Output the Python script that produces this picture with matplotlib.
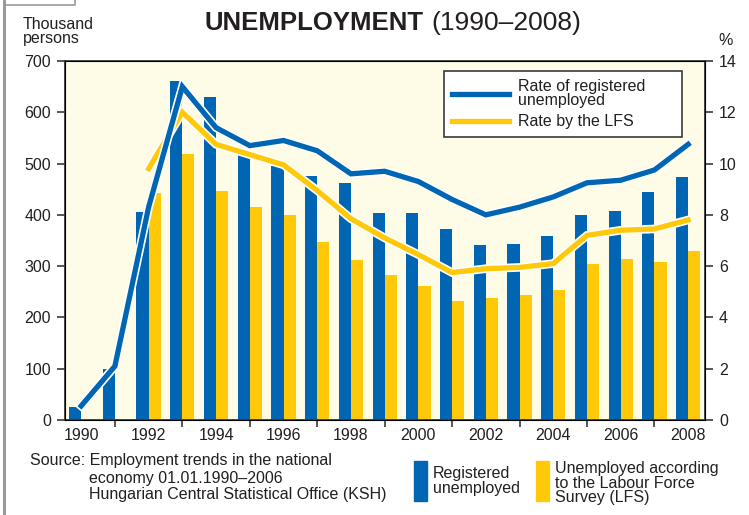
import numpy as np
import matplotlib
matplotlib.use("Agg")
import matplotlib.pyplot as plt
import matplotlib.patheffects as pe
from matplotlib.patches import Rectangle
from matplotlib.lines import Line2D

plt.rcParams["font.family"] = ["Liberation Sans", "DejaVu Sans"]

BLUE = "#0066b3"
YELLOW = "#ffc90a"
CREAM = "#fefbe7"
DARK = "#3a3a3a"
TEXT = "#231f20"
FRAME = "#9a9a9a"
FS = 11.5

# data
years = list(range(1990, 2009))
registered_k = [26, 100, 406, 661, 630, 517, 495, 476, 462, 404, 404,
                372, 341, 343, 359, 400, 407, 444, 474]
lfs_k = [np.nan, np.nan, 443, 518, 446, 415, 400, 347, 312, 283, 261,
         232, 238, 244, 253, 304, 314, 308, 329]
registered_rate = [0.55, 2.1, 8.3, 13.0, 11.4, 10.7, 10.9, 10.5, 9.6, 9.7,
                   9.3, 8.6, 8.0, 8.3, 8.7, 9.25, 9.35, 9.75, 10.75]
lfs_rate = [np.nan, np.nan, 9.8, 12.0, 10.75, 10.35, 9.95, 8.95, 7.85, 7.1,
            6.45, 5.75, 5.9, 5.95, 6.1, 7.2, 7.4, 7.45, 7.8]

W, H = 749, 515
fig = plt.figure(figsize=(W / 100, H / 100), dpi=100)


def fx(px):
    return px / W


def fy(py):
    return 1 - py / H


ax = fig.add_axes([fx(65), fy(420), fx(640), 359 / H])
ax.set_facecolor(CREAM)

x = np.array(years, dtype=float)
bw = 0.36
ax.bar(x - bw / 2, registered_k, width=bw, color=BLUE, zorder=2)
ax.bar(x + bw / 2, lfs_k, width=bw, color=YELLOW, zorder=2)

ax.set_xlim(1989.52, 2008.5)
ax.set_ylim(0, 700)
ax.set_yticks(range(0, 701, 100))
ax.set_xticks(range(1990, 2009, 2))
ax.set_xticks(range(1991, 2009, 2), minor=True)
ax.tick_params(axis="x", which="major", length=0, pad=6, labelsize=FS,
               colors=TEXT)
ax.tick_params(axis="x", which="minor", length=5, width=1.2, color=DARK)
ax.tick_params(axis="y", length=6, width=1.2, color=DARK, pad=4,
               labelsize=FS, labelcolor=TEXT)
for s in ax.spines.values():
    s.set_color(DARK)
    s.set_linewidth(1.3)

ax2 = ax.twinx()
ax2.set_ylim(0, 14)
ax2.set_yticks(range(0, 15, 2))
ax2.tick_params(axis="y", length=6, width=1.2, color=DARK, pad=4,
                labelsize=FS, labelcolor=TEXT)
outline = [pe.Stroke(linewidth=6.2, foreground="white"), pe.Normal()]
l_lfs, = ax2.plot(x, lfs_rate, color=YELLOW, lw=3.8, zorder=3,
                  solid_joinstyle="miter", path_effects=outline,
                  label="Rate by the LFS")
l_reg, = ax2.plot(x, registered_rate, color=BLUE, lw=3.8, zorder=4,
                  solid_joinstyle="miter", path_effects=outline,
                  label="Rate of registered\nunemployed")

leg = ax2.legend(handles=[Line2D([], [], color=BLUE, lw=3.8),
                          Line2D([], [], color=YELLOW, lw=3.8)],
                 labels=[l_reg.get_label(), l_lfs.get_label()],
                 loc="upper left", bbox_to_anchor=(0.592, 0.797, 0.372, 0.175),
                 mode="expand", borderaxespad=0, fontsize=FS, frameon=True,
                 fancybox=False, edgecolor=DARK, framealpha=1,
                 borderpad=0.5, handlelength=3.6, handletextpad=0.55,
                 labelspacing=0.4)
leg.get_frame().set_linewidth(1.2)
for t in leg.get_texts():
    t.set_linespacing(0.9)
    t.set_color(TEXT)

# titles and axis captions
fig.text(fx(424), fy(30), "UNEMPLOYMENT", ha="right", va="baseline",
         fontsize=18.5, fontweight="bold", color=TEXT)
fig.text(fx(431), fy(30), "(1990\u20132008)", ha="left", va="baseline",
         fontsize=19, color=TEXT)
fig.text(fx(23), fy(43), "Thousand\npersons", ha="left", va="baseline",
         fontsize=FS, linespacing=0.95, color=TEXT)
fig.text(fx(718), fy(45), "%", ha="left", va="baseline",
         fontsize=FS, color=TEXT)

# source note
fig.text(fx(30), fy(461), "Source: Employment trends in the national",
         ha="left", va="center", fontsize=FS, color=TEXT)
fig.text(fx(89), fy(478), "economy 01.01.1990\u20132006", ha="left",
         va="center", fontsize=FS, color=TEXT)
fig.text(fx(89), fy(495), "Hungarian Central Statistical Office (KSH)",
         ha="left", va="center", fontsize=FS, color=TEXT)

# bar legend
fig.patches.append(Rectangle((fx(414), fy(501)), fx(13), 40 / H,
                             transform=fig.transFigure, color=BLUE))
fig.patches.append(Rectangle((fx(536), fy(501)), fx(13), 40 / H,
                             transform=fig.transFigure, color=YELLOW))
fig.text(fx(433), fy(481), "Registered\nunemployed", ha="left", va="center",
         fontsize=FS, linespacing=0.95, color=TEXT)
fig.text(fx(555), fy(483), "Unemployed according\nto the Labour Force\nSurvey (LFS)",
         ha="left", va="center", fontsize=FS, linespacing=0.95, color=TEXT)

# page frame remnants
fig.add_artist(Line2D([fx(4), fx(4)], [0, 1], color=FRAME, lw=2.2,
                      transform=fig.transFigure))
fig.add_artist(Line2D([fx(4), fx(75), fx(75)], [fy(5), fy(5), 1],
                      color=FRAME, lw=1.2, transform=fig.transFigure))

fig.savefig("out.png", dpi=100, facecolor="white")
